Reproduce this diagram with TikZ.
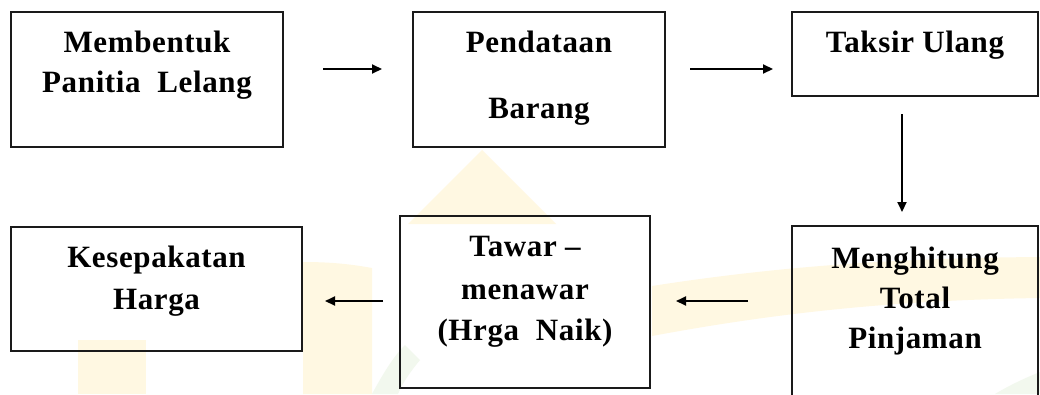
\documentclass[tikz,border=0pt]{standalone}
\usepackage{fontspec}
\setmainfont{Liberation Serif}[LetterSpace=2.0]
\usetikzlibrary{arrows.meta}

\definecolor{wmyellow}{HTML}{FFF8E2}
\definecolor{wmgreen}{HTML}{F2F8EE}
\definecolor{frame}{HTML}{1A1A1A}

\begin{document}
\begin{tikzpicture}[x=1pt,y=-1pt,
  stage/.style={draw=frame, line width=1.3pt, inner sep=0pt},
  flow/.style={line width=2pt, -{Triangle[length=10pt,width=9pt]}},
  caption/.style={font=\fontsize{31}{37}\selectfont\bfseries, anchor=base,
    inner sep=0pt, outer sep=0pt}]

\useasboundingbox (0,0) rectangle (1040,394);
\clip (0,0) rectangle (1040,394);
\fill[white] (0,0) rectangle (1040,394);

% faint background emblem
\fill[wmyellow] (482,150) -- (556,224) -- (408,224) -- cycle;
\fill[wmyellow] (652,286) .. controls (780,266) and (900,258) .. (1040,257)
  -- (1040,298) .. controls (900,300) and (780,312) .. (652,336) -- cycle;
\fill[wmyellow] (78,340) rectangle (146,394);
\fill[wmyellow] (303,262) .. controls (330,262) and (350,264) .. (372,268)
  -- (372,394) -- (303,394) -- cycle;
\fill[wmgreen] (372,394) .. controls (385,370) and (395,355) .. (405,345)
  -- (420,360) .. controls (410,372) and (402,384) .. (398,394) -- cycle;
\fill[wmgreen] (995,394) .. controls (1010,385) and (1025,378) .. (1040,372)
  -- (1040,394) -- cycle;

% process stages
\node[stage, minimum width=272pt, minimum height=135pt] (panitia) at (147,79.5) {};
\node[stage, minimum width=252pt, minimum height=135pt] (pendataan) at (539,79.5) {};
\node[stage, minimum width=246pt, minimum height=84pt]  (taksir) at (915,54) {};
\node[stage, minimum width=246pt, minimum height=200pt] (hitung) at (915,326) {};
\node[stage, minimum width=250pt, minimum height=172pt] (tawar) at (525,302) {};
\node[stage, minimum width=291pt, minimum height=124pt] (sepakat) at (156.5,289) {};

% stage captions
\node[caption] (t1a) at (147,52) {Membentuk};
\node[caption] (t1b) at (147,92) {Panitia\ \ Lelang};
\node[caption] (t2a) at (539,52) {Pendataan};
\node[caption] (t2b) at (539,118) {Barang};
\node[caption] (t3a) at (915,52) {Taksir Ulang};
\node[caption] (t4a) at (915,268) {Menghitung};
\node[caption] (t4b) at (915,308) {Total};
\node[caption] (t4c) at (915,348) {Pinjaman};
\node[caption] (t5a) at (525,256) {Tawar \textendash};
\node[caption] (t5b) at (525,299) {menawar};
\node[caption] (t5c) at (525,340) {(Hrga\ \ Naik)};
\node[caption] (t6a) at (156.5,267) {Kesepakatan};
\node[caption] (t6b) at (156.5,309) {Harga};

% connectors
\coordinate (a1s) at (323,69);  \coordinate (a1e) at (382,69);
\coordinate (a2s) at (690,69);  \coordinate (a2e) at (773,69);
\coordinate (a3s) at (902,114); \coordinate (a3e) at (902,212);
\coordinate (a4s) at (748,301); \coordinate (a4e) at (676,301);
\coordinate (a5s) at (383,301); \coordinate (a5e) at (325,301);

\draw[flow] (a1s) -- (a1e);
\draw[flow] (a2s) -- (a2e);
\draw[flow] (a3s) -- (a3e);
\draw[flow] (a4s) -- (a4e);
\draw[flow] (a5s) -- (a5e);
\end{tikzpicture}
\end{document}
